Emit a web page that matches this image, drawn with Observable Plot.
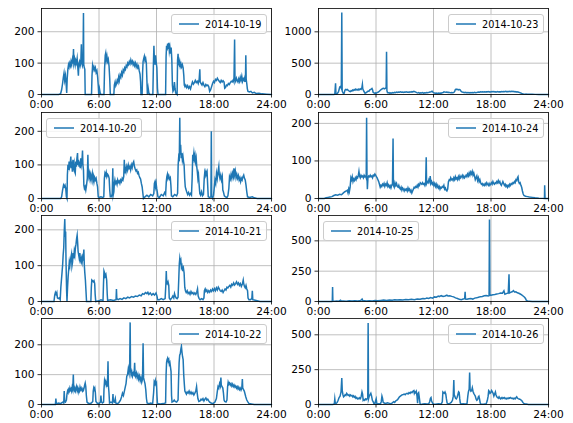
<!DOCTYPE html>
<html>
<head>
<meta charset="utf-8">
<script src="https://cdn.jsdelivr.net/npm/d3@7"></script>
<script src="https://cdn.jsdelivr.net/npm/@observablehq/plot@0.6"></script>
<style>
  html, body { margin: 0; padding: 0; background: white; }
  #fig { position: relative; width: 573px; height: 423px; background: white; font-family: "DejaVu Sans", sans-serif; overflow: hidden; }
  .panel { position: absolute; }
  .legend { position: absolute; box-sizing: border-box; height: 20px; background: rgba(255,255,255,0.8); border: 1px solid #cccccc; border-radius: 3px; display: flex; align-items: center; padding: 0 5px 0 7px; font-size: 9.7px; color: black; white-space: nowrap; }
  .legend svg { margin-right: 6px; }
</style>
</head>
<body>
<div id="fig"></div>
<script>
// ---- data ----
const dates = ["2014-10-19","2014-10-20","2014-10-21","2014-10-22","2014-10-23","2014-10-24","2014-10-25","2014-10-26"];
const xTicks = [0, 6, 12, 18, 24];
const yTicks19to22 = [0, 100, 200];
const yTicks23 = [0, 500, 1000];
const yTicks24 = [0, 100, 200];
const yTicks25to26 = [0, 250, 500];

const d19 = [[0,0],[1.8,0],[2.0,3],[2.1,15],[2.2,35],[2.28,55],[2.35,68],[2.42,45],[2.5,60],[2.58,30],[2.63,5],[2.68,50],[2.75,80],[2.82,95],[2.88,88],[2.95,100],[3.02,92],[3.08,105],[3.15,95],[3.22,110],[3.28,98],[3.34,145],[3.38,100],[3.45,112],[3.52,95],[3.58,108],[3.65,100],[3.72,115],[3.78,90],[3.85,60],[3.9,98],[3.97,105],[4.04,92],[4.1,100],[4.16,160],[4.2,105],[4.27,92],[4.33,100],[4.38,260],[4.41,95],[4.47,85],[4.52,80],[4.56,0],[5.22,0],[5.27,60],[5.33,92],[5.4,80],[5.47,88],[5.55,78],[5.62,85],[5.7,70],[5.78,76],[5.86,55],[5.93,25],[5.97,0],[6.05,18],[6.12,5],[6.2,0],[6.52,0],[6.58,80],[6.65,125],[6.7,132],[6.76,110],[6.83,122],[6.9,105],[6.97,112],[7.05,90],[7.12,50],[7.18,0],[7.55,0],[7.6,30],[7.68,40],[7.75,28],[7.83,35],[7.9,45],[7.98,38],[8.05,55],[8.12,45],[8.2,62],[8.28,55],[8.36,70],[8.44,62],[8.52,78],[8.6,72],[8.68,85],[8.76,80],[8.84,92],[8.92,88],[9.0,100],[9.08,95],[9.16,105],[9.24,98],[9.32,110],[9.4,100],[9.48,106],[9.56,95],[9.64,102],[9.72,92],[9.8,100],[9.88,88],[9.96,96],[10.04,85],[10.12,90],[10.2,75],[10.28,65],[10.34,40],[10.38,0],[10.5,0],[10.55,70],[10.6,105],[10.67,115],[10.73,122],[10.8,108],[10.87,115],[10.94,100],[11.0,45],[11.05,0],[11.13,20],[11.2,5],[11.3,0],[11.62,0],[11.68,100],[11.73,155],[11.78,110],[11.84,95],[11.9,125],[11.96,105],[12.04,85],[12.1,20],[12.16,0],[12.95,0],[13.0,120],[13.05,155],[13.1,140],[13.16,162],[13.22,145],[13.28,165],[13.34,138],[13.4,150],[13.47,130],[13.53,150],[13.6,110],[13.66,30],[13.72,10],[13.8,15],[13.87,40],[13.93,20],[14.0,5],[14.15,0],[14.2,110],[14.25,130],[14.3,100],[14.36,95],[14.42,105],[14.48,90],[14.55,98],[14.62,88],[14.7,95],[14.78,85],[14.85,60],[14.9,30],[14.97,25],[15.05,30],[15.15,22],[15.25,28],[15.35,20],[15.45,25],[15.55,18],[15.65,30],[15.75,40],[15.85,33],[15.95,38],[16.05,45],[16.15,38],[16.25,42],[16.35,35],[16.45,48],[16.52,80],[16.56,40],[16.65,35],[16.75,30],[16.85,38],[16.95,30],[17.05,25],[17.15,32],[17.25,28],[17.35,30],[17.45,25],[17.55,10],[17.65,15],[17.75,25],[17.85,35],[17.95,42],[18.05,38],[18.15,48],[18.25,45],[18.35,52],[18.45,46],[18.55,42],[18.65,38],[18.75,45],[18.85,40],[18.95,44],[19.05,40],[19.12,20],[19.2,22],[19.3,30],[19.4,28],[19.5,35],[19.6,32],[19.7,38],[19.8,42],[19.9,40],[20.0,46],[20.08,40],[20.15,175],[20.19,48],[20.26,42],[20.34,52],[20.42,45],[20.5,40],[20.58,50],[20.66,42],[20.74,55],[20.82,45],[20.9,58],[20.98,42],[21.06,50],[21.14,45],[21.22,55],[21.28,40],[21.32,125],[21.36,48],[21.42,35],[21.48,18],[21.55,10],[21.7,8],[21.85,10],[22.0,5],[22.2,7],[22.4,3],[22.7,4],[23.0,2],[23.5,1],[24,0]];

const d20 = [[0,0],[2.0,0],[2.1,5],[2.2,25],[2.3,40],[2.37,35],[2.45,40],[2.53,30],[2.6,5],[2.66,0],[2.7,70],[2.76,100],[2.82,85],[2.88,110],[2.94,95],[3.0,105],[3.06,125],[3.1,90],[3.16,110],[3.22,80],[3.28,115],[3.34,95],[3.4,105],[3.46,80],[3.52,75],[3.58,110],[3.64,95],[3.7,120],[3.76,135],[3.8,100],[3.86,115],[3.92,95],[3.98,110],[4.04,90],[4.1,120],[4.16,100],[4.22,110],[4.28,143],[4.32,100],[4.38,85],[4.42,40],[4.48,30],[4.55,35],[4.62,25],[4.7,40],[4.78,60],[4.84,130],[4.88,80],[4.94,65],[5.0,75],[5.06,60],[5.12,70],[5.18,55],[5.24,65],[5.3,75],[5.36,55],[5.42,65],[5.48,50],[5.55,62],[5.62,55],[5.7,60],[5.78,45],[5.85,35],[5.92,5],[6.0,3],[6.2,5],[6.4,3],[6.5,5],[6.56,60],[6.62,75],[6.68,70],[6.75,78],[6.82,65],[6.9,72],[6.98,68],[7.06,60],[7.12,25],[7.18,5],[7.3,5],[7.38,15],[7.44,90],[7.48,10],[7.55,20],[7.6,45],[7.66,55],[7.72,45],[7.8,50],[7.88,42],[7.95,55],[8.02,48],[8.1,52],[8.18,45],[8.26,55],[8.34,50],[8.42,60],[8.5,55],[8.58,65],[8.64,115],[8.68,75],[8.75,90],[8.82,80],[8.9,95],[8.98,85],[9.06,100],[9.14,90],[9.22,95],[9.3,85],[9.38,100],[9.46,92],[9.54,105],[9.62,110],[9.7,95],[9.78,88],[9.86,82],[9.94,85],[10.02,75],[10.1,78],[10.18,68],[10.26,62],[10.34,58],[10.42,45],[10.5,35],[10.58,15],[10.64,0],[10.8,5],[11.0,10],[11.2,5],[11.4,12],[11.6,8],[11.72,15],[11.78,45],[11.84,50],[11.9,35],[11.96,45],[12.02,30],[12.08,20],[12.15,5],[12.3,3],[12.5,12],[12.7,8],[12.85,18],[12.95,12],[13.02,50],[13.08,65],[13.14,72],[13.2,60],[13.28,68],[13.36,58],[13.44,62],[13.5,40],[13.56,8],[13.7,5],[13.9,12],[14.1,8],[14.2,15],[14.26,100],[14.32,125],[14.38,120],[14.43,240],[14.47,130],[14.52,160],[14.58,120],[14.64,135],[14.7,115],[14.76,125],[14.82,110],[14.88,100],[14.94,60],[15.0,35],[15.06,28],[15.15,20],[15.25,12],[15.35,18],[15.45,10],[15.55,15],[15.65,10],[15.72,60],[15.78,130],[15.84,120],[15.9,135],[15.96,118],[16.02,128],[16.08,110],[16.14,120],[16.2,95],[16.26,80],[16.32,60],[16.38,70],[16.45,40],[16.52,15],[16.6,10],[16.7,20],[16.8,8],[16.9,12],[16.98,60],[17.04,78],[17.1,70],[17.16,80],[17.22,72],[17.28,78],[17.34,40],[17.4,5],[17.55,3],[17.68,5],[17.72,200],[17.76,5],[17.85,0],[17.95,10],[18.02,30],[18.1,55],[18.18,45],[18.26,75],[18.34,60],[18.42,80],[18.5,95],[18.55,70],[18.62,60],[18.7,70],[18.78,55],[18.86,65],[18.92,25],[18.98,20],[19.08,8],[19.2,5],[19.35,3],[19.45,8],[19.55,30],[19.62,65],[19.7,58],[19.78,72],[19.86,60],[19.94,75],[20.02,65],[20.08,90],[20.14,70],[20.22,82],[20.3,62],[20.38,72],[20.46,60],[20.54,68],[20.62,55],[20.7,62],[20.78,50],[20.86,60],[20.94,55],[21.02,65],[21.1,70],[21.18,60],[21.26,55],[21.34,40],[21.42,20],[21.5,5],[21.7,3],[22.0,5],[22.2,2],[22.5,0],[24,0]];

const d21 = [[0,0],[1.3,0],[1.38,18],[1.45,25],[1.52,20],[1.6,25],[1.66,10],[1.75,8],[1.85,10],[1.95,5],[2.02,40],[2.08,60],[2.14,80],[2.2,100],[2.26,130],[2.32,150],[2.38,200],[2.43,230],[2.47,180],[2.52,195],[2.56,110],[2.62,30],[2.66,0],[2.72,40],[2.78,70],[2.84,90],[2.9,110],[2.96,100],[3.02,115],[3.08,125],[3.13,132],[3.18,100],[3.24,110],[3.3,135],[3.36,120],[3.42,140],[3.48,130],[3.54,150],[3.6,160],[3.66,175],[3.72,185],[3.77,165],[3.82,140],[3.88,130],[3.94,120],[4.0,135],[4.06,115],[4.12,110],[4.18,120],[4.24,110],[4.3,125],[4.36,120],[4.42,145],[4.47,100],[4.52,80],[4.58,60],[4.64,30],[4.7,0],[5.15,0],[5.2,40],[5.25,60],[5.32,58],[5.4,55],[5.48,58],[5.55,50],[5.6,20],[5.66,0],[6.0,2],[6.2,5],[6.42,3],[6.47,50],[6.52,85],[6.58,80],[6.64,70],[6.72,75],[6.8,60],[6.86,20],[6.9,3],[7.2,5],[7.5,3],[7.78,5],[7.82,35],[7.86,8],[8.0,5],[8.2,8],[8.4,6],[8.6,10],[8.8,8],[9.0,12],[9.2,10],[9.4,14],[9.6,12],[9.8,15],[10.0,14],[10.2,18],[10.4,16],[10.55,22],[10.7,20],[10.85,25],[11.0,22],[11.1,26],[11.2,20],[11.35,24],[11.5,18],[11.65,22],[11.8,18],[11.95,24],[12.05,15],[12.12,5],[12.3,5],[12.5,8],[12.7,5],[12.9,8],[12.98,50],[13.02,85],[13.06,55],[13.12,50],[13.2,55],[13.28,45],[13.33,10],[13.45,5],[13.6,10],[13.7,15],[13.8,10],[13.88,22],[13.95,15],[14.05,10],[14.15,8],[14.25,12],[14.32,60],[14.38,105],[14.43,120],[14.48,110],[14.54,115],[14.6,95],[14.66,100],[14.72,90],[14.8,95],[14.88,80],[14.95,40],[15.02,30],[15.1,25],[15.2,30],[15.3,22],[15.4,26],[15.5,20],[15.6,28],[15.7,22],[15.8,25],[15.9,20],[16.0,24],[16.1,20],[16.2,26],[16.28,35],[16.35,15],[16.45,8],[16.55,5],[16.7,8],[16.85,5],[16.95,10],[17.0,30],[17.08,35],[17.16,28],[17.25,32],[17.35,25],[17.45,30],[17.55,26],[17.65,32],[17.75,28],[17.85,35],[17.95,30],[18.05,36],[18.15,30],[18.25,38],[18.35,32],[18.45,40],[18.55,35],[18.65,30],[18.75,28],[18.85,32],[18.95,25],[19.05,30],[19.15,35],[19.25,32],[19.35,40],[19.45,38],[19.55,42],[19.65,45],[19.75,40],[19.85,48],[19.95,45],[20.05,52],[20.15,46],[20.25,50],[20.35,55],[20.45,48],[20.55,52],[20.65,45],[20.75,50],[20.85,42],[20.95,48],[21.05,60],[21.1,50],[21.18,42],[21.26,38],[21.34,45],[21.42,35],[21.5,30],[21.55,10],[21.65,5],[21.8,5],[21.95,8],[22.0,30],[22.05,5],[22.2,4],[22.5,2],[22.8,0],[24,0]];

const d22 = [[0,0],[1.45,0],[1.5,20],[1.55,3],[1.8,5],[2.0,3],[2.2,8],[2.32,5],[2.37,45],[2.42,10],[2.5,8],[2.6,15],[2.66,35],[2.72,45],[2.78,40],[2.84,50],[2.9,45],[2.96,55],[3.02,48],[3.08,52],[3.14,45],[3.2,58],[3.26,50],[3.32,100],[3.36,55],[3.42,48],[3.48,55],[3.54,45],[3.6,52],[3.66,60],[3.72,48],[3.78,55],[3.84,42],[3.9,50],[3.96,45],[4.02,58],[4.08,50],[4.14,55],[4.2,48],[4.26,45],[4.32,52],[4.38,48],[4.44,55],[4.5,65],[4.56,72],[4.62,60],[4.68,30],[4.75,8],[4.85,5],[5.0,3],[5.2,5],[5.35,10],[5.4,45],[5.45,55],[5.5,50],[5.56,55],[5.62,40],[5.68,10],[5.8,5],[6.0,3],[6.15,8],[6.2,30],[6.25,10],[6.35,5],[6.48,8],[6.52,50],[6.58,80],[6.64,72],[6.7,78],[6.76,65],[6.82,72],[6.88,60],[6.94,145],[6.98,65],[7.04,40],[7.1,5],[7.25,8],[7.4,5],[7.46,35],[7.5,10],[7.6,8],[7.7,20],[7.75,5],[7.9,3],[8.05,5],[8.15,10],[8.25,15],[8.35,25],[8.45,38],[8.55,30],[8.65,45],[8.75,60],[8.82,70],[8.9,95],[8.98,100],[9.06,120],[9.14,105],[9.2,130],[9.25,275],[9.29,115],[9.35,100],[9.42,110],[9.5,95],[9.58,105],[9.66,100],[9.72,140],[9.76,105],[9.82,95],[9.9,105],[9.98,90],[10.06,100],[10.14,85],[10.22,95],[10.3,80],[10.38,90],[10.46,75],[10.54,85],[10.6,205],[10.65,90],[10.72,80],[10.8,70],[10.88,50],[10.95,20],[11.02,5],[11.2,3],[11.4,5],[11.6,3],[11.7,40],[11.76,75],[11.82,70],[11.88,80],[11.94,68],[12.0,72],[12.05,30],[12.1,3],[12.4,2],[12.7,3],[12.95,5],[13.0,100],[13.05,140],[13.1,150],[13.16,155],[13.22,145],[13.28,150],[13.34,135],[13.4,140],[13.46,125],[13.52,110],[13.57,30],[13.62,8],[13.75,10],[13.85,15],[13.95,10],[14.1,8],[14.25,15],[14.3,80],[14.36,140],[14.42,165],[14.48,170],[14.54,185],[14.6,195],[14.66,175],[14.72,160],[14.78,150],[14.84,100],[14.9,70],[14.96,45],[15.04,40],[15.12,35],[15.2,42],[15.3,38],[15.4,45],[15.5,36],[15.6,42],[15.7,35],[15.8,40],[15.9,32],[16.0,38],[16.1,45],[16.18,60],[16.24,40],[16.32,20],[16.42,10],[16.55,12],[16.65,18],[16.75,15],[16.85,20],[16.95,12],[17.05,18],[17.15,22],[17.25,15],[17.35,18],[17.45,12],[17.55,8],[17.7,5],[17.9,3],[18.1,8],[18.25,20],[18.35,45],[18.42,60],[18.5,55],[18.58,70],[18.66,62],[18.72,90],[18.76,65],[18.84,60],[18.92,55],[18.98,40],[19.05,15],[19.12,10],[19.25,8],[19.35,15],[19.42,60],[19.48,75],[19.55,68],[19.62,72],[19.7,65],[19.78,70],[19.86,62],[19.94,68],[20.02,60],[20.1,65],[20.18,58],[20.26,62],[20.34,55],[20.42,60],[20.5,52],[20.58,58],[20.66,50],[20.74,55],[20.82,48],[20.9,55],[20.96,85],[21.0,55],[21.08,50],[21.16,45],[21.24,35],[21.32,25],[21.42,15],[21.55,8],[21.65,3],[21.9,2],[22.2,0],[24,0]];

const d23 = [[0,0],[1.6,0],[1.7,5],[1.78,180],[1.82,10],[1.9,5],[2.0,25],[2.08,40],[2.15,80],[2.22,120],[2.3,130],[2.38,100],[2.43,1307],[2.47,60],[2.52,40],[2.6,15],[2.68,20],[2.76,70],[2.84,80],[2.92,75],[3.0,82],[3.08,70],[3.16,60],[3.24,50],[3.32,45],[3.4,60],[3.48,55],[3.56,72],[3.64,65],[3.72,80],[3.8,70],[3.88,85],[3.96,75],[4.04,80],[4.12,70],[4.2,85],[4.28,75],[4.36,90],[4.44,80],[4.52,100],[4.58,160],[4.62,90],[4.7,60],[4.78,40],[4.86,20],[4.94,25],[5.02,35],[5.1,45],[5.18,55],[5.26,50],[5.34,70],[5.42,80],[5.5,85],[5.58,95],[5.64,75],[5.7,35],[5.78,25],[5.86,20],[5.94,25],[6.02,20],[6.1,30],[6.2,35],[6.3,45],[6.4,60],[6.5,75],[6.6,85],[6.7,95],[6.8,100],[6.9,90],[7.0,100],[7.06,110],[7.1,680],[7.14,60],[7.2,30],[7.28,25],[7.36,30],[7.45,20],[7.55,28],[7.65,22],[7.75,30],[7.85,25],[7.95,35],[8.05,30],[8.15,38],[8.25,32],[8.35,40],[8.45,35],[8.55,42],[8.65,35],[8.75,40],[8.85,32],[8.95,38],[9.05,35],[9.15,42],[9.25,36],[9.35,40],[9.45,34],[9.55,42],[9.65,38],[9.75,45],[9.85,40],[9.95,50],[10.05,45],[10.15,38],[10.25,30],[10.35,25],[10.45,30],[10.55,22],[10.65,28],[10.75,25],[10.85,30],[10.95,22],[11.05,28],[11.15,25],[11.25,30],[11.35,28],[11.45,32],[11.55,35],[11.65,40],[11.75,45],[11.85,52],[11.92,40],[12.0,30],[12.1,25],[12.2,20],[12.3,22],[12.4,18],[12.5,22],[12.6,20],[12.7,25],[12.8,22],[12.9,28],[13.0,30],[13.1,42],[13.2,38],[13.3,35],[13.4,38],[13.5,32],[13.6,35],[13.7,30],[13.8,28],[13.9,32],[14.0,28],[14.1,30],[14.2,45],[14.28,80],[14.36,85],[14.44,78],[14.52,82],[14.6,75],[14.68,80],[14.76,78],[14.84,60],[14.92,45],[15.0,40],[15.1,35],[15.2,30],[15.3,35],[15.4,28],[15.5,32],[15.6,28],[15.7,30],[15.8,26],[15.9,30],[16.0,28],[16.1,32],[16.2,30],[16.3,34],[16.4,30],[16.5,32],[16.6,35],[16.7,38],[16.8,35],[16.9,42],[17.0,40],[17.1,45],[17.2,42],[17.3,45],[17.4,40],[17.5,44],[17.6,42],[17.7,46],[17.8,40],[17.9,45],[18.0,42],[18.1,48],[18.2,44],[18.3,46],[18.4,40],[18.5,45],[18.6,42],[18.7,46],[18.8,40],[18.9,44],[19.0,42],[19.1,46],[19.2,44],[19.3,48],[19.4,45],[19.5,50],[19.6,46],[19.7,48],[19.8,44],[19.9,50],[20.0,46],[20.1,52],[20.2,48],[20.3,50],[20.4,45],[20.5,48],[20.6,42],[20.7,45],[20.8,40],[20.9,35],[21.0,30],[21.1,25],[21.2,18],[21.3,12],[21.4,8],[21.6,6],[21.8,5],[22.0,4],[22.3,3],[22.6,2],[23.0,0],[24,0]];

const d24 = [[0,0],[0.6,0],[0.8,2],[1.0,3],[1.2,4],[1.4,5],[1.6,8],[1.8,10],[2.0,9],[2.2,11],[2.4,10],[2.6,15],[2.75,18],[2.9,20],[3.0,22],[3.08,15],[3.15,25],[3.22,18],[3.3,30],[3.38,55],[3.45,50],[3.52,58],[3.6,45],[3.68,52],[3.76,48],[3.84,55],[3.92,50],[4.0,58],[4.08,55],[4.16,62],[4.22,72],[4.28,60],[4.36,55],[4.44,62],[4.52,58],[4.6,60],[4.68,55],[4.76,62],[4.84,58],[4.92,60],[4.98,55],[5.02,215],[5.06,60],[5.1,25],[5.16,55],[5.24,60],[5.32,58],[5.4,62],[5.48,58],[5.56,60],[5.64,55],[5.72,62],[5.8,60],[5.88,65],[5.96,62],[6.04,58],[6.12,55],[6.2,50],[6.28,45],[6.36,38],[6.44,30],[6.52,35],[6.6,32],[6.68,38],[6.76,35],[6.84,40],[6.92,32],[7.0,38],[7.08,35],[7.16,42],[7.24,32],[7.32,36],[7.4,30],[7.48,34],[7.56,28],[7.64,35],[7.72,40],[7.78,160],[7.82,35],[7.9,30],[7.98,42],[8.06,35],[8.14,40],[8.22,32],[8.3,30],[8.38,35],[8.46,28],[8.54,25],[8.62,30],[8.7,22],[8.78,28],[8.86,25],[8.94,20],[9.02,25],[9.1,22],[9.18,25],[9.26,20],[9.34,28],[9.42,22],[9.5,25],[9.58,18],[9.66,22],[9.74,15],[9.82,20],[9.9,25],[9.98,30],[10.06,28],[10.14,32],[10.22,30],[10.3,35],[10.38,30],[10.46,38],[10.54,35],[10.62,42],[10.7,40],[10.78,38],[10.86,42],[10.94,38],[11.02,40],[11.1,35],[11.18,42],[11.24,110],[11.28,40],[11.36,45],[11.44,42],[11.52,50],[11.6,45],[11.66,60],[11.72,40],[11.8,45],[11.88,38],[11.96,42],[12.04,35],[12.12,40],[12.2,32],[12.28,38],[12.36,30],[12.44,35],[12.52,28],[12.6,32],[12.68,25],[12.76,30],[12.84,28],[12.92,32],[13.0,30],[13.08,35],[13.16,25],[13.24,28],[13.32,22],[13.4,20],[13.48,25],[13.56,45],[13.64,50],[13.72,48],[13.8,55],[13.88,50],[13.96,52],[14.04,48],[14.12,55],[14.2,50],[14.28,58],[14.36,52],[14.44,55],[14.52,50],[14.6,58],[14.68,52],[14.76,60],[14.84,55],[14.92,58],[15.0,62],[15.08,55],[15.16,60],[15.24,55],[15.32,58],[15.4,62],[15.48,58],[15.56,65],[15.64,60],[15.72,68],[15.8,62],[15.88,70],[15.96,65],[16.04,72],[16.12,62],[16.2,68],[16.28,60],[16.36,50],[16.44,55],[16.52,60],[16.6,48],[16.68,55],[16.76,45],[16.84,50],[16.92,42],[17.0,38],[17.08,40],[17.16,35],[17.24,38],[17.32,35],[17.4,40],[17.48,36],[17.56,42],[17.64,38],[17.72,35],[17.8,40],[17.88,35],[17.96,38],[18.04,42],[18.12,38],[18.2,45],[18.28,40],[18.36,38],[18.44,42],[18.52,40],[18.6,45],[18.68,42],[18.76,48],[18.84,42],[18.92,45],[19.0,38],[19.08,35],[19.16,40],[19.24,45],[19.32,40],[19.4,35],[19.48,38],[19.56,32],[19.64,35],[19.72,30],[19.8,35],[19.88,32],[19.96,38],[20.04,35],[20.12,40],[20.2,38],[20.28,42],[20.36,40],[20.44,45],[20.52,42],[20.6,50],[20.68,48],[20.76,55],[20.82,58],[20.88,45],[20.96,40],[21.04,42],[21.12,35],[21.2,30],[21.28,20],[21.36,12],[21.44,8],[21.6,6],[21.8,5],[22.0,4],[22.3,3],[22.6,2],[23.0,1],[23.58,0],[23.6,35],[23.64,0],[24,0]];

const d25 = [[0,0],[1.4,0],[1.44,5],[1.47,120],[1.5,5],[1.7,3],[1.9,5],[2.1,3],[2.3,10],[2.35,4],[2.6,5],[2.9,3],[3.2,6],[3.5,4],[3.8,7],[4.1,5],[4.4,8],[4.55,20],[4.62,8],[4.8,6],[5.0,4],[5.3,7],[5.6,5],[5.9,8],[6.2,6],[6.5,9],[6.8,12],[7.1,8],[7.4,12],[7.7,10],[7.95,15],[8.2,12],[8.5,15],[8.8,12],[9.1,16],[9.4,14],[9.7,18],[10.0,15],[10.3,20],[10.6,18],[10.9,25],[11.1,22],[11.3,28],[11.5,25],[11.7,32],[11.9,28],[12.1,38],[12.3,35],[12.5,45],[12.6,40],[12.8,48],[13.0,42],[13.2,45],[13.4,52],[13.5,45],[13.7,48],[13.9,42],[14.1,38],[14.3,30],[14.5,25],[14.7,18],[14.9,15],[15.1,20],[15.25,25],[15.3,80],[15.34,20],[15.5,18],[15.7,22],[15.9,25],[16.1,20],[16.3,28],[16.5,30],[16.7,35],[16.9,40],[17.1,42],[17.3,48],[17.5,50],[17.7,45],[17.8,48],[17.84,675],[17.88,50],[18.0,52],[18.2,55],[18.4,58],[18.6,62],[18.8,65],[19.0,70],[19.2,68],[19.35,88],[19.45,60],[19.6,65],[19.8,70],[19.88,225],[19.92,70],[20.05,75],[20.2,80],[20.35,90],[20.45,78],[20.6,80],[20.75,72],[20.9,68],[21.05,62],[21.2,55],[21.35,45],[21.5,35],[21.6,25],[21.68,10],[21.8,5],[22.0,3],[22.3,0],[24,0]];

const d26 = [[0,0],[1.5,0],[1.65,5],[1.7,40],[1.75,10],[1.85,8],[1.95,15],[2.05,30],[2.15,50],[2.25,60],[2.35,90],[2.43,190],[2.48,100],[2.55,70],[2.62,55],[2.7,60],[2.78,70],[2.86,65],[2.94,80],[3.02,72],[3.1,65],[3.18,70],[3.26,60],[3.34,68],[3.42,62],[3.5,65],[3.58,55],[3.66,62],[3.74,52],[3.82,58],[3.9,45],[3.98,50],[4.06,40],[4.14,45],[4.22,40],[4.3,48],[4.38,42],[4.46,60],[4.54,90],[4.6,75],[4.66,30],[4.74,35],[4.82,30],[4.9,40],[4.98,35],[5.06,40],[5.14,45],[5.18,585],[5.22,40],[5.3,60],[5.38,70],[5.46,80],[5.54,60],[5.62,30],[5.7,20],[5.8,5],[5.88,3],[5.95,25],[6.02,40],[6.08,10],[6.15,3],[6.3,5],[6.45,3],[6.55,20],[6.62,60],[6.68,45],[6.75,15],[6.85,10],[7.0,8],[7.2,12],[7.4,8],[7.55,5],[7.7,12],[7.85,20],[7.95,15],[8.05,25],[8.15,30],[8.25,35],[8.35,45],[8.45,55],[8.55,60],[8.65,65],[8.75,70],[8.85,72],[8.95,75],[9.05,70],[9.15,78],[9.25,80],[9.35,75],[9.45,85],[9.55,80],[9.65,90],[9.75,85],[9.85,95],[9.95,100],[10.0,80],[10.06,90],[10.12,85],[10.2,95],[10.28,60],[10.34,10],[10.4,80],[10.45,85],[10.5,60],[10.6,5],[10.7,0],[10.9,3],[11.1,5],[11.3,3],[11.5,5],[11.6,20],[11.68,45],[11.74,50],[11.8,25],[11.9,10],[12.0,3],[12.2,2],[12.5,5],[12.8,3],[12.92,20],[12.98,90],[13.05,85],[13.12,80],[13.2,90],[13.28,75],[13.35,40],[13.42,10],[13.55,5],[13.7,8],[13.85,15],[13.98,30],[14.06,60],[14.12,175],[14.16,70],[14.22,60],[14.3,45],[14.38,40],[14.46,50],[14.54,70],[14.62,90],[14.68,85],[14.74,40],[14.8,10],[14.9,3],[15.1,5],[15.3,3],[15.5,8],[15.58,60],[15.64,90],[15.72,110],[15.77,230],[15.82,110],[15.9,95],[15.98,100],[16.05,120],[16.12,95],[16.2,80],[16.28,70],[16.36,60],[16.44,40],[16.52,30],[16.6,35],[16.68,55],[16.74,60],[16.8,40],[16.88,10],[16.95,3],[17.2,2],[17.5,5],[17.62,30],[17.7,60],[17.76,100],[17.82,95],[17.9,80],[17.98,85],[18.06,100],[18.14,90],[18.22,80],[18.3,60],[18.38,75],[18.46,90],[18.52,70],[18.6,55],[18.68,50],[18.76,45],[18.84,55],[18.92,45],[19.0,40],[19.08,48],[19.16,42],[19.24,50],[19.32,45],[19.4,50],[19.48,42],[19.56,45],[19.64,40],[19.72,45],[19.8,42],[19.88,48],[19.96,45],[20.04,50],[20.12,45],[20.2,42],[20.28,45],[20.36,40],[20.44,45],[20.52,40],[20.6,48],[20.68,55],[20.76,45],[20.84,42],[20.92,40],[21.0,38],[21.08,35],[21.16,30],[21.24,25],[21.32,15],[21.42,8],[21.55,5],[21.7,3],[21.9,0],[24,0]];

const series = [d19, d20, d21, d22, d23, d24, d25, d26];
const yMaxes = [274, 256, 240, 288, 1372, 229, 709, 617];
const yTickSets = [yTicks19to22, yTicks19to22, yTicks19to22, yTicks19to22, yTicks23, yTicks24, yTicks25to26, yTicks25to26];

// ---- layout ----
const fig = document.getElementById("fig");
const colLeft = [41, 318];
const rowTop = [8, 112, 215, 318];
const FW = 230, FH = 86;
const mL = 45, mR = 22, mT = 6, mB = 24;
const legendLeftSide = new Set(["2014-10-20", "2014-10-25"]);
const blue = "#1f77b4";

series.forEach((data, i) => {
  const col = i < 4 ? 0 : 1;
  const row = i % 4;
  const fx = colLeft[col], fy = rowTop[row];
  const yt = yTickSets[i];
  const chart = Plot.plot({
    width: mL + FW + mR,
    height: mT + FH + mB,
    marginLeft: mL, marginRight: mR, marginTop: mT, marginBottom: mB,
    x: {domain: [0, 24], label: null},
    y: {domain: [0, yMaxes[i]], label: null},
    style: {background: "transparent", fontFamily: "'DejaVu Sans', sans-serif", fontSize: "10.6px", color: "black", overflow: "visible"},
    marks: [
      Plot.gridX(xTicks, {stroke: "#b0b0b0", strokeOpacity: 1, strokeWidth: 0.8}),
      Plot.gridY(yt, {stroke: "#b0b0b0", strokeOpacity: 1, strokeWidth: 0.8}),
      Plot.line(data, {x: d => d[0], y: d => d[1], stroke: blue, strokeWidth: 1.5, strokeLinejoin: "miter", strokeMiterlimit: 10}),
      Plot.frame({stroke: "black", strokeWidth: 0.8}),
      Plot.axisX(xTicks, {tickFormat: d => d + ":00", tickSize: 3.5, tickPadding: 2.5, strokeWidth: 0.8}),
      Plot.axisY(yt, {tickFormat: d => String(d), tickSize: 3.5, tickPadding: 3.5, strokeWidth: 0.8})
    ]
  });
  chart.classList.add("panel");
  chart.style.left = (fx - mL) + "px";
  chart.style.top = (fy - mT) + "px";
  fig.appendChild(chart);

  // legend box
  const lg = document.createElement("div");
  lg.className = "legend";
  const ns = "http://www.w3.org/2000/svg";
  const s = document.createElementNS(ns, "svg");
  s.setAttribute("width", "20"); s.setAttribute("height", "4");
  const ln = document.createElementNS(ns, "line");
  ln.setAttribute("x1", "0"); ln.setAttribute("x2", "20"); ln.setAttribute("y1", "2"); ln.setAttribute("y2", "2");
  ln.setAttribute("stroke", blue); ln.setAttribute("stroke-width", "1.5");
  s.appendChild(ln);
  lg.appendChild(s);
  const tx = document.createElement("span");
  tx.textContent = dates[i];
  lg.appendChild(tx);
  lg.style.top = (fy + 6) + "px";
  fig.appendChild(lg);
  if (legendLeftSide.has(dates[i])) {
    lg.style.left = (fx + 5) + "px";
  } else {
    lg.style.left = (fx + FW - 4 - lg.offsetWidth) + "px";
  }
});
</script>
</body>
</html>
